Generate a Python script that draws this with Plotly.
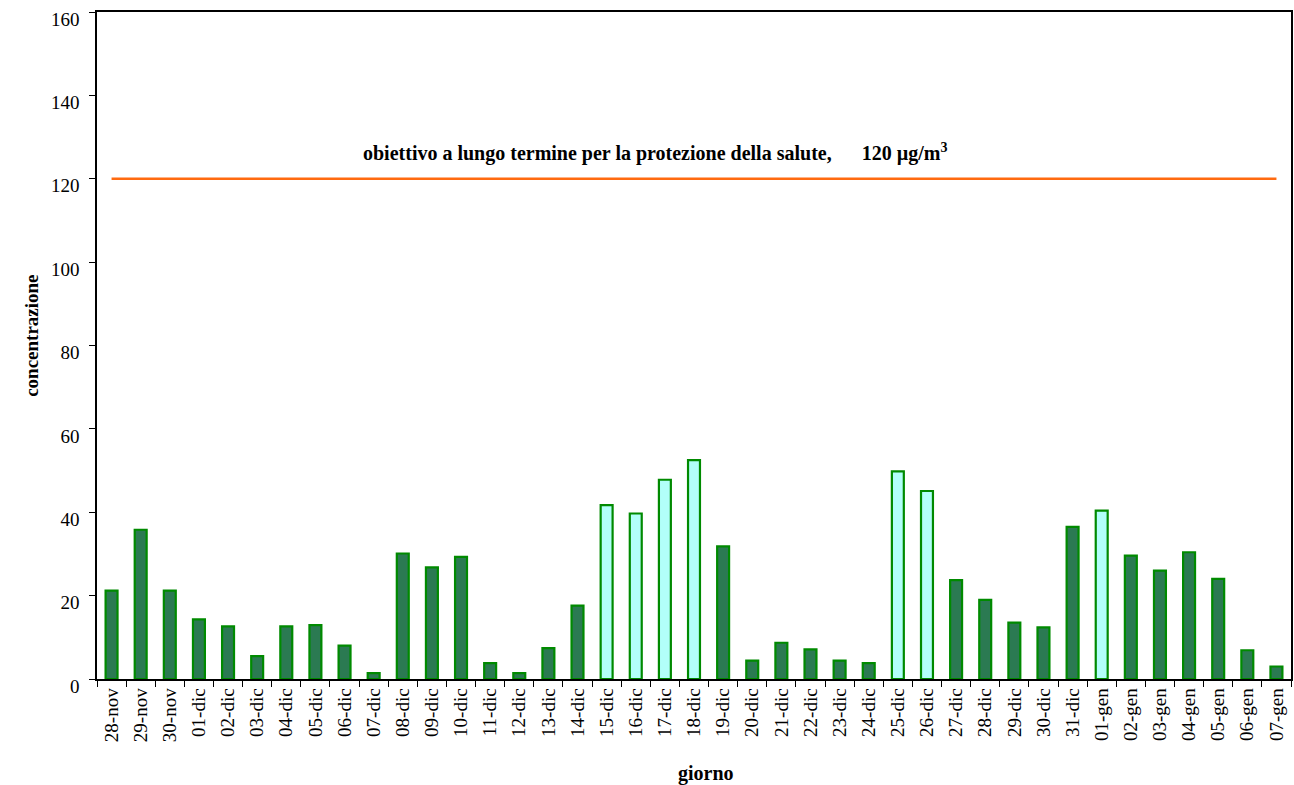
import plotly.graph_objects as go

days = ["28-nov", "29-nov", "30-nov", "01-dic", "02-dic", "03-dic", "04-dic", "05-dic", "06-dic", "07-dic",
        "08-dic", "09-dic", "10-dic", "11-dic", "12-dic", "13-dic", "14-dic", "15-dic", "16-dic", "17-dic",
        "18-dic", "19-dic", "20-dic", "21-dic", "22-dic", "23-dic", "24-dic", "25-dic", "26-dic", "27-dic",
        "28-dic", "29-dic", "30-dic", "31-dic", "01-gen", "02-gen", "03-gen", "04-gen", "05-gen", "06-gen",
        "07-gen"]
values = [21.2, 35.8, 21.2, 14.3, 12.6, 5.5, 12.6, 12.9, 8.0, 1.4,
          30.1, 26.8, 29.3, 3.8, 1.4, 7.4, 17.6, 41.7, 39.7, 47.8,
          52.5, 31.8, 4.4, 8.7, 7.1, 4.4, 3.8, 49.8, 45.1, 23.7,
          19.0, 13.5, 12.4, 36.5, 40.4, 29.6, 26.0, 30.4, 24.0, 6.9,
          3.0]
highlight_days = ["15-dic", "16-dic", "17-dic", "18-dic", "25-dic", "26-dic", "01-gen"]
target_value = 120
y_ticks = [0, 20, 40, 60, 80, 100, 120, 140, 160]

FONT = "Liberation Serif"
DARK = "#2b7a52"
LIGHT = "#b2fffa"
EDGE = "#008a00"

colors = [LIGHT if d in highlight_days else DARK for d in days]

fig = go.Figure()
fig.add_trace(go.Bar(
    x=days, y=values,
    marker=dict(color=colors, line=dict(color=EDGE, width=2.2)),
    showlegend=False,
))
fig.add_trace(go.Scatter(
    x=[days[0], days[-1]], y=[target_value, target_value],
    mode="lines", line=dict(color="#ff6a10", width=2.5),
    showlegend=False, hoverinfo="skip",
))

fig.add_annotation(
    x=0.467, xref="paper", y=target_value, yref="y", yshift=26,
    text="<b>obiettivo a lungo termine per la protezione della salute,      120 µg/m<sup>3</sup></b>",
    showarrow=False, font=dict(family=FONT, size=20, color="#000000"),
)
fig.add_annotation(
    x=0.510, xref="paper", y=-0.1415, yref="paper", yanchor="middle",
    text="<b>giorno</b>", showarrow=False,
    font=dict(family=FONT, size=20, color="#000000"),
)
fig.add_annotation(
    x=-0.066, xref="paper", y=0.514, yref="paper", textangle=-90,
    text="<b>concentrazione</b>", showarrow=False,
    font=dict(family=FONT, size=19, color="#000000"),
)

fig.update_layout(
    width=1294, height=785,
    margin=dict(l=97, r=1, t=12, b=106),
    paper_bgcolor="white", plot_bgcolor="white",
    bargap=0.59,
    font=dict(family=FONT, size=19, color="#000000"),
    xaxis=dict(
        type="category", tickangle=-90, showline=True, linecolor="black", linewidth=1.5,
        mirror=True, ticks="outside", ticklen=6, tickcolor="black", tickson="boundaries",
        showgrid=False, tickfont=dict(family=FONT, size=19),
    ),
    yaxis=dict(
        range=[0, 160], tickvals=y_ticks, showline=True, linecolor="black", linewidth=1.5,
        mirror=True, ticks="outside", ticklen=6, tickcolor="black", showgrid=False,
        zeroline=False, tickfont=dict(family=FONT, size=19), ticklabelstandoff=6,
        ticklabelshift=7,
    ),
)

fig.write_html("out.html")
